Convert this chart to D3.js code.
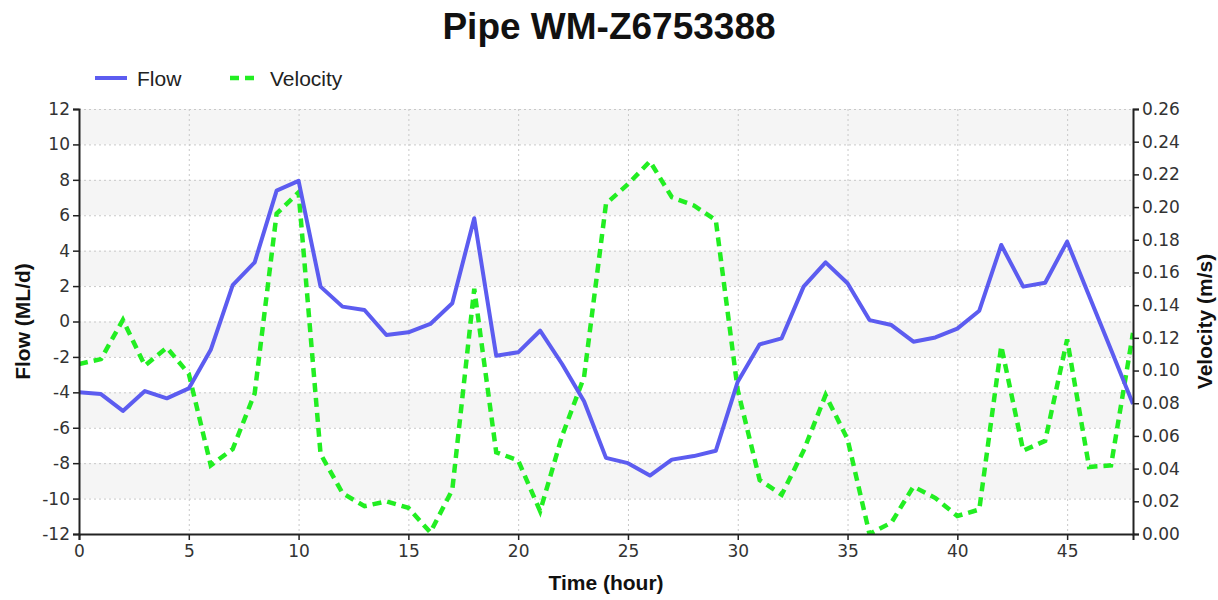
<!DOCTYPE html>
<html>
  <head>
    <meta charset="utf-8">
    <title>Pipe WM-Z6753388</title>
    <style>
      body { margin: 0; background: #fff; }
      svg { font-family: "Liberation Sans", Arial, sans-serif; }
    </style>
  </head>
  <body>
    <svg id="canvas" width="1218" height="600"></svg>
    <script src="https://d3js.org/d3.v7.min.js"></script>
    <script>
      // Hours 0..48
      var hours = d3.range(0, 49);
      var flow = [
        -4.0, -4.1, -5.05, -3.93, -4.34, -3.78, -1.6, 2.06, 3.34, 7.39, 7.94,
        1.97, 0.84, 0.65, -0.76, -0.61, -0.14, 1.03, 5.83, -1.93, -1.74, -0.52,
        -2.4, -4.5, -7.7, -8.0, -8.7, -7.8, -7.6, -7.3, -3.4, -1.29, -0.95,
        1.97, 3.34, 2.16, 0.08, -0.2, -1.14, -0.9, -0.4, 0.61, 4.32, 1.97,
        2.19, 4.51, 1.46, -1.59, -4.66
      ];
      var velocity = [
        0.104, 0.107, 0.131, 0.103, 0.114, 0.098, 0.042, 0.052, 0.086, 0.196,
        0.209, 0.049, 0.025, 0.017, 0.02, 0.016, 0.001, 0.027, 0.15, 0.05,
        0.045, 0.014, 0.06, 0.096, 0.202, 0.214, 0.228, 0.206, 0.201, 0.192,
        0.088, 0.033, 0.024, 0.051, 0.085, 0.058, 0.0, 0.007, 0.029, 0.022,
        0.011, 0.015, 0.115, 0.051, 0.057, 0.119, 0.041, 0.042, 0.123
      ];
      var xTicks = [0, 5, 10, 15, 20, 25, 30, 35, 40, 45];
      var flowTicks = d3.range(-12, 13, 2);
      var velTicks = d3.range(0, 0.261, 0.02);

      const margin = { left: 79, right: 85, top: 109, bottom: 66 };
      const W = 1218, H = 600;
      const svg = d3.select("#canvas");

      var x = d3.scaleLinear().domain([0, 48]).range([margin.left, W - margin.right]);
      var yFlow = d3.scaleLinear().domain([-12, 12]).range([H - margin.bottom, margin.top]);
      var yVel = d3.scaleLinear().domain([0, 0.26]).range([H - margin.bottom, margin.top]);

      // alternating bands
      for (var i = 0; i < flowTicks.length - 1; i++) {
        var lo = flowTicks[i], hi = flowTicks[i + 1];
        // gray bands: 10..12, 6..8, 2..4, -2..0, -6..-4, -10..-8
        if (((hi + 12) / 2) % 2 === 0) {
          svg.append("rect")
            .attr("x", x(0)).attr("width", x(48) - x(0))
            .attr("y", yFlow(hi)).attr("height", yFlow(lo) - yFlow(hi))
            .attr("fill", "#f5f5f5");
        }
      }

      // grid
      var grid = svg.append("g").attr("stroke", "#c8c8c8").attr("stroke-dasharray", "2,3").attr("stroke-width", 1);
      flowTicks.forEach(t => {
        if (t === -12) return;
        grid.append("line").attr("x1", x(0)).attr("x2", x(48))
          .attr("y1", yFlow(t) + 0.5).attr("y2", yFlow(t) + 0.5);
      });
      xTicks.forEach(t => {
        if (t === 0) return;
        grid.append("line").attr("y1", yFlow(12)).attr("y2", yFlow(-12))
          .attr("x1", x(t) + 0.5).attr("x2", x(t) + 0.5);
      });

      // lines
      svg.append("clipPath").attr("id", "clip").append("rect")
        .attr("x", x(0)).attr("y", yFlow(12))
        .attr("width", x(48) - x(0)).attr("height", yFlow(-12) - yFlow(12));

      var plot = svg.append("g").attr("clip-path", "url(#clip)");
      plot.append("path")
        .datum(hours)
        .attr("d", d3.line().x(d => x(d)).y(d => yVel(velocity[d])))
        .attr("fill", "none").attr("stroke", "#22ee22")
        .attr("stroke-width", 4.5).attr("stroke-dasharray", "9,6");
      plot.append("path")
        .datum(hours)
        .attr("d", d3.line().x(d => x(d)).y(d => yFlow(flow[d])))
        .attr("fill", "none").attr("stroke", "#5c5cf0")
        .attr("stroke-width", 4).attr("stroke-linejoin", "round");

      // axes
      function styleAxis(g) {
        g.selectAll(".domain").attr("stroke", "#222").attr("stroke-width", 2);
        g.selectAll(".tick line").attr("stroke", "#222").attr("stroke-width", 1.5);
        g.selectAll(".tick text").attr("fill", "#333").attr("font-size", "17px")
          .attr("font-family", "'DejaVu Sans', Verdana, sans-serif");
      }
      svg.append("g").attr("transform", "translate(0," + yFlow(-12) + ")")
        .call(d3.axisBottom(x).tickValues(xTicks).tickSizeOuter(0).tickSize(6).tickPadding(5))
        .call(styleAxis);
      svg.append("g").attr("transform", "translate(" + x(0) + ",0)")
        .call(d3.axisLeft(yFlow).tickValues(flowTicks).tickFormat(d => String(d)).tickSizeOuter(0).tickSize(6).tickPadding(3))
        .call(styleAxis);
      svg.append("g").attr("transform", "translate(" + x(48) + ",0)")
        .call(d3.axisRight(yVel).tickValues(velTicks).tickFormat(d3.format(".2f")).tickSizeOuter(0).tickSize(6).tickPadding(3))
        .call(styleAxis);

      // title
      svg.append("text").attr("x", 609).attr("y", 39).attr("text-anchor", "middle")
        .attr("font-size", "37px").attr("font-weight", "bold").attr("fill", "#111")
        .text("Pipe WM-Z6753388");

      // axis titles
      svg.append("text").attr("transform", "translate(30," + yFlow(0) + ") rotate(-90)")
        .attr("text-anchor", "middle").attr("font-size", "21px").attr("font-weight", "bold").attr("fill", "#111")
        .text("Flow (ML/d)");
      svg.append("text").attr("transform", "translate(1212," + yFlow(0) + ") rotate(-90)")
        .attr("text-anchor", "middle").attr("font-size", "21px").attr("font-weight", "bold").attr("fill", "#111")
        .text("Velocity (m/s)");
      svg.append("text").attr("x", 606).attr("y", 590).attr("text-anchor", "middle")
        .attr("font-size", "21px").attr("font-weight", "bold").attr("fill", "#111")
        .text("Time (hour)");

      // legend
      var legend = svg.append("g");
      legend.append("line").attr("x1", 95).attr("x2", 127).attr("y1", 78).attr("y2", 78)
        .attr("stroke", "#5c5cf0").attr("stroke-width", 4);
      legend.append("text").attr("x", 137).attr("y", 86).attr("font-size", "21px").attr("fill", "#222").text("Flow");
      legend.append("line").attr("x1", 230).attr("x2", 260).attr("y1", 78).attr("y2", 78)
        .attr("stroke", "#22ee22").attr("stroke-width", 4.5).attr("stroke-dasharray", "9,6");
      legend.append("text").attr("x", 270).attr("y", 86).attr("font-size", "21px").attr("fill", "#222").text("Velocity");
    </script>
  </body>
</html>
